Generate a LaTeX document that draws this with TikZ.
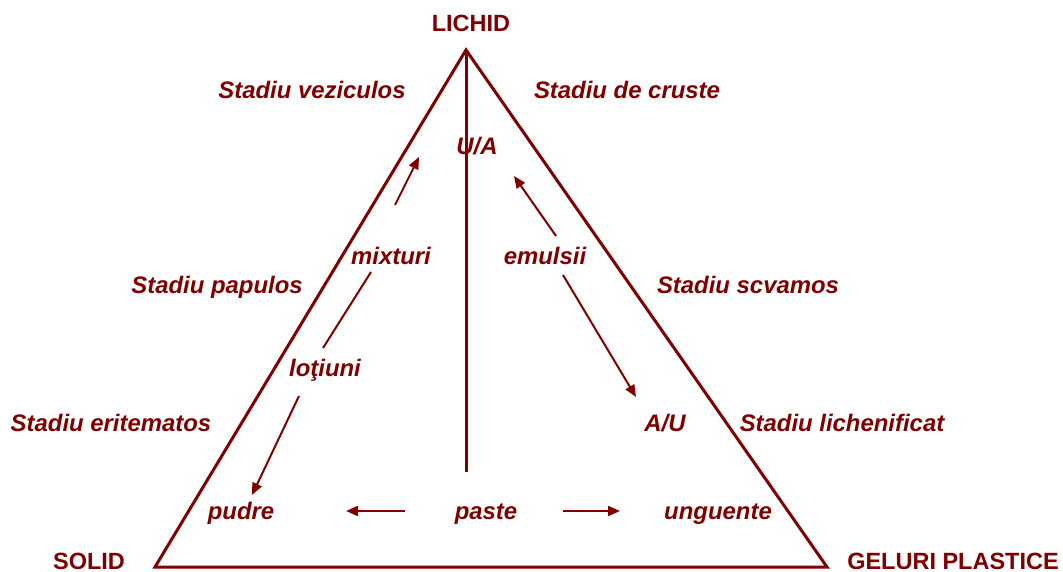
\documentclass[tikz,border=0pt]{standalone}
\usepackage{fontspec}
\setmainfont{Liberation Sans}
\usetikzlibrary{arrows.meta}
\definecolor{dred}{RGB}{128,0,0}
\begin{document}
\begin{tikzpicture}[x=1pt,y=-1pt,
  lbl/.style={font=\fontsize{23.9}{28}\selectfont\bfseries\itshape, text=dred, anchor=base, inner sep=0pt},
  corner/.style={font=\fontsize{23.5}{28}\selectfont\bfseries, text=dred, anchor=base, inner sep=0pt},
  edge/.style={draw=dred, line width=3pt, line join=miter},
  arr/.style={draw=dred, line width=2pt, -{Triangle[length=12pt,width=10pt]}},
  plain/.style={draw=dred, line width=2pt}]
\useasboundingbox (0,0) rectangle (1063,572);
% triangle vertices
\coordinate (T) at (466,50);
\coordinate (L) at (155,567);
\coordinate (R) at (827,567);
\coordinate (B) at (466,472);
\draw[edge] (T) -- (L) -- (R) -- cycle;
\draw[edge] (T) -- (B);
% corner labels
\node[corner] (lichid) at (471,32) {LICHID};
\node[corner] (solid) at (89,569) {SOLID};
\node[corner] (geluri) at (953,569) {GELURI PLASTICE};
% stage labels
\node[lbl] (sv) at (312,99) {Stadiu veziculos};
\node[lbl] (sc) at (627,99) {Stadiu de cruste};
\node[lbl] (sp) at (217,293) {Stadiu papulos};
\node[lbl] (ss) at (748,293) {Stadiu scvamos};
\node[lbl] (se) at (111,431) {Stadiu eritematos};
\node[lbl] (sl) at (842,431) {Stadiu lichenificat};
% inner labels
\node[lbl] (ua) at (477,155) {U/A};
\node[lbl] (mix) at (391,265) {mixturi};
\node[lbl] (emu) at (545,265) {emulsii};
\node[lbl] (lot) at (325,376) {loţiuni};
\node[lbl] (au) at (665,431) {A/U};
\node[lbl] (pud) at (241,519) {pudre};
\node[lbl] (pas) at (486,519) {paste};
\node[lbl] (ung) at (718,519) {unguente};
% arrow end points
\coordinate (m1) at (395,205);
\coordinate (m2) at (419,157);
\coordinate (l1) at (371,272);
\coordinate (l2) at (323,348);
\coordinate (p1) at (299,396);
\coordinate (p2) at (252,495);
\coordinate (e1) at (556,236);
\coordinate (e2) at (514,176);
\coordinate (e3) at (563,275);
\coordinate (e4) at (636,397);
\coordinate (b1) at (405,511);
\coordinate (b2) at (346,511);
\coordinate (b3) at (563,511);
\coordinate (b4) at (620,511);
\draw[arr] (m1) -- (m2);
\draw[plain] (l1) -- (l2);
\draw[arr] (p1) -- (p2);
\draw[arr] (e1) -- (e2);
\draw[arr] (e3) -- (e4);
\draw[arr] (b1) -- (b2);
\draw[arr] (b3) -- (b4);
\end{tikzpicture}
\end{document}
